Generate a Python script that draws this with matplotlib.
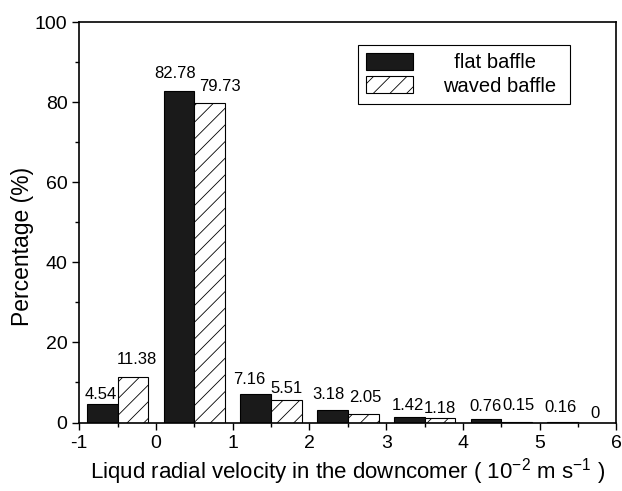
import matplotlib
matplotlib.use('Agg')
import matplotlib.pyplot as plt
import numpy as np

plt.rcParams['font.family'] = ['Liberation Sans', 'DejaVu Sans']
plt.rcParams['mathtext.fontset'] = 'custom'
plt.rcParams['mathtext.rm'] = 'Liberation Sans'
plt.rcParams['mathtext.it'] = 'Liberation Sans'
plt.rcParams['axes.unicode_minus'] = False
plt.rcParams['hatch.linewidth'] = 0.6

# bins of liquid radial velocity (10^-2 m/s), centre of each bin
bin_centers = [-0.5, 0.5, 1.5, 2.5, 3.5, 4.5, 5.5]
flat = [4.54, 82.78, 7.16, 3.18, 1.42, 0.76, 0.16]
waved = [11.38, 79.73, 5.51, 2.05, 1.18, 0.15, 0]
flat_labels = ['4.54', '82.78', '7.16', '3.18', '1.42', '0.76', '0.16']
waved_labels = ['11.38', '79.73', '5.51', '2.05', '1.18', '0.15', '0']

# hand placement of value labels (pixels): dx, gap above bar
flat_dx = [-2, -4, -7, -4, -1, 0, -2]
flat_dy = [5, 13, 10, 11, 7, 8, 10]
waved_dx = [4, 10, 0, 2, 0, 2, 2]
waved_dy = [13, 12, 7, 12, 5, 12, 5]

w = 0.4
xc = np.array(bin_centers)

fig = plt.figure(figsize=(6.22, 4.91), dpi=100)
ax = fig.add_axes([0.1275, 0.1395, 0.8635, 0.8155])

ax.bar(xc - w/2, flat, width=w, color='#1a1a1a', edgecolor='black', lw=0.8, label='  flat baffle ')
ax.bar(xc + w/2, waved, width=w, color='white', edgecolor='black', lw=0.8, hatch='//', label='waved baffle ')

px = 0.72  # points per pixel at 100 dpi
for i in range(len(xc)):
    ax.annotate(flat_labels[i], (xc[i] - w/2, flat[i]), xytext=(flat_dx[i]*px, flat_dy[i]*px),
                textcoords='offset points', ha='center', va='baseline', fontsize=12)
    ax.annotate(waved_labels[i], (xc[i] + w/2, waved[i]), xytext=(waved_dx[i]*px, waved_dy[i]*px),
                textcoords='offset points', ha='center', va='baseline', fontsize=12)

ax.set_xlim(-1, 6)
ax.set_ylim(0, 100)
ax.set_xticks(np.arange(-1, 7, 1))
ax.set_xticks(np.arange(-0.5, 6, 1), minor=True)
ax.set_yticks(np.arange(0, 101, 20))
ax.set_yticks(np.arange(10, 100, 20), minor=True)
ax.tick_params(which='major', direction='out', length=5, width=1, labelsize=14)
ax.tick_params(which='minor', direction='out', length=3, width=1)
ax.tick_params(axis='x', pad=4)
for s in ax.spines.values():
    s.set_linewidth(1.2)

ax.set_xlabel('Liqud radial velocity in the downcomer ( 10$^{-2}$ m s$^{-1}$ )', fontsize=16, labelpad=3)
ax.set_ylabel('Percentage (%)', fontsize=16.5)
ax.yaxis.set_label_coords(-0.084, 0.44)

leg = ax.legend(loc='upper right', bbox_to_anchor=(0.914, 0.943), borderaxespad=0,
                fontsize=14.5, fancybox=False, frameon=True, framealpha=1,
                edgecolor='black', handlelength=2.35, handleheight=0.9,
                handletextpad=1.5, labelspacing=0.2, borderpad=0.4)
leg.get_frame().set_linewidth(0.8)

fig.savefig('out.png', dpi=100)
